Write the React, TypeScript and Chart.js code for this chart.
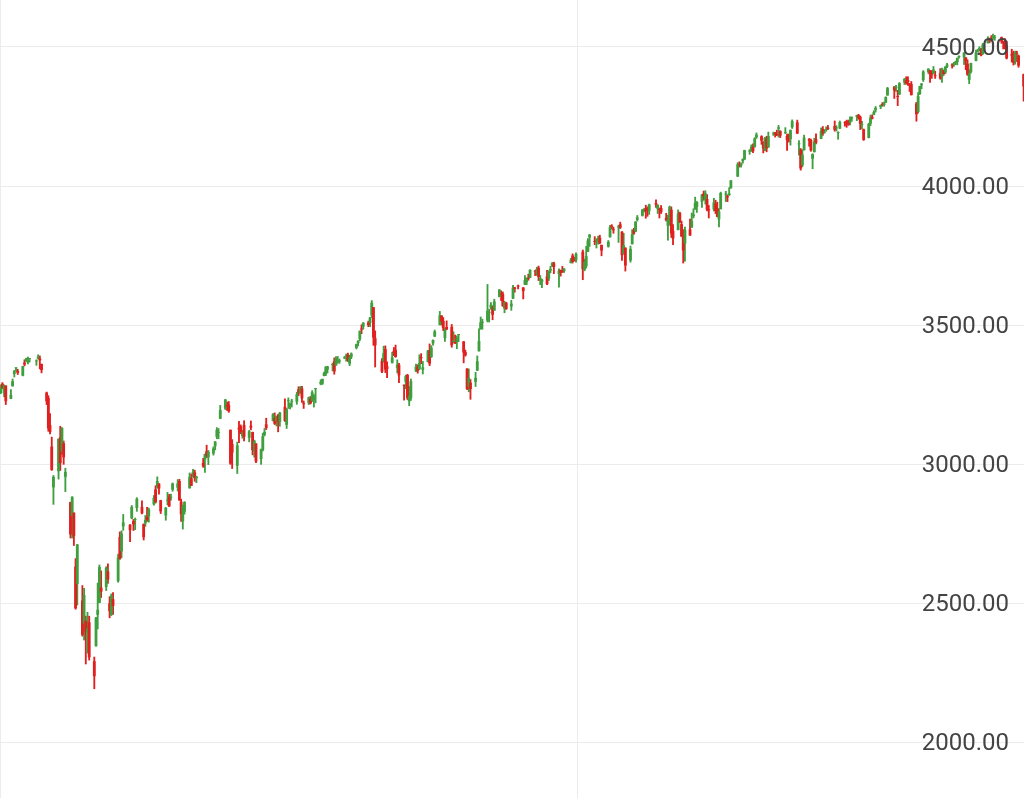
import React, { useEffect, useRef } from "react";
import { Chart, registerables } from "chart.js";

Chart.register(...registerables);

// [day of month, open, high, low, close]
type Row = [number, number, number, number, number];

const jan2020: Row[] = [[28,3255,3285,3253,3276],[29,3289,3293,3271,3273],[30,3256,3285,3242,3284],[31,3282,3282,3214,3226]];
const feb2020: Row[] = [[3,3235,3268,3235,3249],[4,3280,3306,3280,3298],[5,3324,3337,3313,3334],[6,3344,3347,3334,3346],[7,3335,3341,3322,3328],[10,3318,3352,3317,3352],[11,3365,3375,3353,3358],[12,3370,3381,3369,3379],[13,3365,3385,3360,3373],[14,3378,3380,3367,3380],[18,3369,3375,3355,3370],[19,3380,3393,3378,3386],[20,3380,3389,3342,3373],[21,3360,3360,3328,3338],[24,3257,3259,3214,3226],[25,3238,3246,3118,3128],[26,3140,3182,3108,3116],[27,3063,3097,2977,2979],[28,2916,2959,2855,2954]];
const mar2020: Row[] = [[2,2974,3091,2946,3090],[3,3096,3136,2977,3003],[4,3045,3131,3035,3130],[5,3075,3083,2999,3024],[6,2954,2985,2901,2972],[9,2863,2863,2734,2747],[10,2813,2883,2734,2882],[11,2825,2825,2707,2741],[12,2631,2660,2478,2481],[13,2569,2711,2493,2711],[16,2509,2563,2381,2386],[17,2426,2553,2367,2529],[18,2436,2453,2281,2398],[19,2394,2467,2320,2409],[20,2431,2453,2295,2305],[23,2291,2306,2192,2237],[24,2345,2449,2345,2447],[25,2458,2572,2407,2476],[26,2501,2637,2501,2630],[27,2556,2616,2520,2541],[30,2558,2631,2545,2627],[31,2614,2641,2571,2585]];
const apr2020: Row[] = [[1,2499,2523,2447,2471],[2,2458,2533,2455,2527],[3,2514,2538,2459,2489],[6,2579,2676,2575,2664],[7,2738,2756,2657,2659],[8,2686,2760,2663,2750],[9,2776,2819,2762,2790],[13,2782,2782,2721,2762],[14,2805,2851,2803,2846],[15,2795,2801,2761,2783],[16,2799,2806,2764,2800],[17,2842,2879,2830,2875],[20,2846,2868,2821,2823],[21,2784,2785,2727,2737],[22,2787,2815,2776,2799],[23,2810,2844,2794,2798],[24,2812,2842,2791,2837],[27,2855,2887,2852,2878],[28,2909,2922,2860,2863],[29,2918,2954,2913,2939],[30,2930,2930,2892,2912]];
const may2020: Row[] = [[1,2870,2870,2822,2830],[4,2815,2844,2798,2843],[5,2868,2898,2853,2868],[6,2883,2891,2847,2848],[7,2879,2892,2870,2881],[8,2908,2932,2902,2930],[11,2915,2944,2903,2930],[12,2939,2945,2869,2870],[13,2865,2874,2794,2820],[14,2794,2852,2766,2852],[15,2829,2865,2820,2863],[18,2913,2968,2913,2954],[19,2949,2964,2922,2922],[20,2953,2981,2953,2972],[21,2970,2978,2938,2949],[22,2949,2956,2933,2955],[26,3004,3021,2988,2992],[27,3016,3036,2970,3036],[28,3046,3068,3023,3030],[29,3025,3049,2998,3044]];
const jun2020: Row[] = [[1,3038,3062,3032,3056],[2,3064,3081,3051,3081],[3,3098,3131,3091,3123],[4,3112,3128,3091,3112],[5,3163,3211,3163,3194],[8,3199,3233,3196,3232],[9,3213,3223,3193,3207],[10,3213,3225,3186,3190],[11,3123,3123,2999,3002],[12,3072,3088,2984,3041],[15,2994,3079,2966,3067],[16,3131,3154,3077,3124],[17,3136,3141,3109,3113],[18,3101,3121,3093,3115],[19,3141,3156,3083,3098],[22,3094,3121,3080,3118],[23,3138,3155,3123,3131],[24,3115,3115,3033,3050],[25,3047,3086,3025,3084],[26,3074,3074,3005,3009],[29,3018,3054,2999,3053],[30,3050,3111,3047,3100]];
const jul2020: Row[] = [[1,3105,3128,3101,3116],[2,3143,3165,3124,3130],[6,3155,3182,3155,3180],[7,3166,3184,3142,3145],[8,3154,3172,3137,3170],[9,3176,3179,3116,3152],[10,3152,3186,3136,3185],[13,3206,3235,3153,3155],[14,3141,3200,3128,3197],[15,3226,3238,3200,3227],[16,3209,3220,3198,3216],[17,3224,3233,3205,3225],[20,3224,3258,3215,3251],[21,3269,3278,3246,3257],[22,3254,3279,3254,3276],[23,3272,3280,3222,3236],[24,3219,3227,3200,3215],[27,3219,3241,3214,3240],[28,3235,3243,3216,3218],[29,3227,3264,3225,3258],[30,3231,3250,3205,3246],[31,3270,3272,3220,3271]];
const aug2020: Row[] = [[3,3289,3303,3285,3295],[4,3289,3306,3286,3306],[5,3317,3331,3317,3327],[6,3323,3351,3318,3349],[7,3340,3352,3328,3351],[10,3356,3363,3335,3360],[11,3370,3382,3323,3333],[12,3355,3387,3355,3380],[13,3372,3387,3363,3373],[14,3368,3378,3362,3373],[17,3380,3387,3379,3381],[18,3388,3396,3370,3390],[19,3392,3399,3369,3375],[20,3361,3391,3354,3385],[21,3386,3400,3379,3397],[24,3418,3432,3414,3431],[25,3435,3444,3425,3443],[26,3449,3479,3444,3479],[27,3486,3501,3469,3484],[28,3494,3509,3485,3508],[31,3509,3514,3494,3500]];
const sep2020: Row[] = [[1,3507,3528,3494,3527],[2,3534,3588,3527,3580],[3,3564,3564,3427,3455],[4,3453,3479,3349,3427],[8,3371,3379,3329,3332],[9,3369,3424,3366,3399],[10,3413,3425,3329,3340],[11,3352,3368,3311,3341],[14,3364,3402,3363,3384],[15,3407,3419,3390,3401],[16,3411,3428,3384,3385],[17,3346,3375,3328,3357],[18,3357,3362,3293,3319],[21,3285,3285,3230,3281],[22,3295,3320,3271,3316],[23,3320,3323,3232,3237],[24,3226,3279,3210,3247],[25,3237,3306,3229,3298],[28,3333,3360,3332,3351],[29,3350,3357,3327,3335],[30,3341,3393,3340,3363]];
const oct2020: Row[] = [[1,3385,3397,3361,3381],[2,3339,3369,3324,3348],[5,3367,3409,3367,3408],[6,3408,3432,3354,3361],[7,3384,3426,3384,3419],[8,3434,3447,3428,3446],[9,3459,3482,3458,3477],[12,3500,3549,3500,3535],[13,3534,3534,3500,3512],[14,3515,3527,3480,3489],[15,3453,3489,3441,3483],[16,3493,3515,3483,3484],[19,3493,3502,3420,3427],[20,3439,3476,3435,3443],[21,3439,3464,3433,3436],[22,3439,3461,3415,3453],[23,3464,3466,3440,3465],[26,3441,3441,3364,3401],[27,3403,3410,3388,3391],[28,3343,3343,3268,3271],[29,3277,3342,3260,3310],[30,3293,3304,3233,3270]];
const nov2020: Row[] = [[2,3296,3330,3279,3310],[3,3336,3389,3336,3370],[4,3406,3486,3406,3443],[5,3485,3529,3485,3510],[6,3508,3521,3485,3509],[9,3516,3646,3511,3551],[10,3544,3557,3511,3545],[11,3563,3581,3557,3573],[12,3563,3569,3519,3537],[13,3552,3593,3552,3585],[16,3601,3628,3601,3627],[17,3611,3623,3588,3610],[18,3612,3619,3567,3568],[19,3559,3585,3544,3582],[20,3580,3582,3556,3558],[23,3567,3589,3553,3577],[24,3595,3643,3595,3635],[25,3635,3636,3618,3630],[27,3639,3644,3630,3638],[30,3635,3635,3594,3622]];
const dec2020: Row[] = [[1,3645,3678,3645,3662],[2,3654,3670,3645,3669],[3,3669,3683,3661,3666],[4,3670,3699,3670,3699],[7,3694,3697,3678,3692],[8,3683,3708,3678,3702],[9,3706,3712,3660,3673],[10,3660,3678,3645,3668],[11,3656,3665,3634,3663],[14,3675,3697,3645,3647],[15,3666,3695,3660,3695],[16,3696,3711,3688,3702],[17,3713,3725,3710,3722],[18,3722,3726,3685,3709],[21,3684,3702,3636,3695],[22,3698,3698,3676,3687],[23,3693,3711,3689,3690],[24,3694,3703,3689,3703],[28,3723,3740,3723,3735],[29,3750,3756,3723,3727],[30,3736,3744,3730,3732],[31,3733,3760,3726,3756]];
const jan2021: Row[] = [[4,3764,3770,3663,3701],[5,3698,3737,3695,3727],[6,3712,3783,3705,3748],[7,3764,3811,3764,3804],[8,3815,3826,3783,3825],[11,3803,3818,3789,3799],[12,3801,3811,3777,3801],[13,3802,3820,3791,3810],[14,3814,3823,3792,3795],[15,3788,3788,3749,3768],[19,3782,3804,3780,3799],[20,3816,3859,3816,3852],[21,3857,3861,3845,3853],[22,3844,3852,3830,3841],[25,3851,3859,3797,3855],[26,3862,3870,3847,3850],[27,3836,3836,3732,3751],[28,3755,3830,3755,3787],[29,3778,3778,3694,3714]];
const feb2021: Row[] = [[1,3732,3784,3726,3774],[2,3791,3843,3791,3826],[3,3840,3848,3826,3830],[4,3836,3872,3836,3872],[5,3878,3894,3874,3887],[8,3893,3916,3892,3915],[9,3910,3919,3907,3911],[10,3920,3931,3884,3910],[11,3917,3925,3891,3916],[12,3911,3935,3898,3934],[16,3939,3950,3923,3933],[17,3918,3933,3901,3932],[18,3915,3921,3885,3914],[19,3921,3930,3901,3907],[22,3885,3902,3874,3877],[23,3857,3895,3805,3881],[24,3873,3928,3859,3925],[25,3915,3925,3815,3829],[26,3839,3861,3789,3811]];
const mar2021: Row[] = [[1,3842,3914,3842,3901],[2,3903,3906,3868,3870],[3,3863,3874,3818,3819],[4,3818,3843,3723,3768],[5,3793,3852,3730,3842],[8,3844,3881,3822,3822],[9,3851,3903,3851,3875],[10,3891,3918,3885,3898],[11,3916,3960,3916,3939],[12,3925,3944,3905,3943],[15,3943,3970,3923,3969],[16,3973,3982,3949,3963],[17,3949,3983,3935,3974],[18,3953,3969,3910,3915],[19,3914,3930,3885,3913],[22,3916,3956,3910,3941],[23,3937,3949,3901,3910],[24,3919,3942,3889,3889],[25,3880,3919,3853,3909],[26,3917,3978,3917,3975],[29,3969,3981,3944,3971],[30,3963,3968,3944,3959],[31,3967,3994,3966,3973]];
const apr2021: Row[] = [[1,3992,4020,3992,4020],[5,4034,4084,4034,4078],[6,4075,4087,4068,4074],[7,4074,4083,4068,4080],[8,4089,4098,4082,4097],[9,4096,4129,4095,4129],[12,4124,4131,4114,4128],[13,4130,4148,4124,4141],[14,4141,4152,4120,4125],[15,4140,4174,4140,4171],[16,4175,4191,4171,4185],[19,4179,4181,4150,4163],[20,4159,4160,4119,4135],[21,4128,4175,4127,4173],[22,4170,4179,4123,4135],[23,4139,4194,4139,4180],[26,4185,4194,4182,4187],[27,4188,4193,4176,4187],[28,4185,4201,4181,4183],[29,4206,4218,4176,4211],[30,4198,4199,4174,4181]];
const may2021: Row[] = [[3,4191,4210,4188,4192],[4,4180,4187,4128,4165],[5,4177,4187,4158,4168],[6,4169,4202,4147,4201],[7,4211,4238,4207,4233],[10,4229,4237,4188,4189],[11,4150,4163,4111,4153],[12,4130,4135,4057,4063],[13,4074,4131,4069,4113],[14,4129,4183,4129,4174],[17,4169,4171,4143,4163],[18,4165,4169,4125,4128],[19,4098,4116,4062,4115],[20,4122,4172,4122,4160],[21,4168,4188,4151,4156],[24,4170,4209,4170,4198],[25,4205,4214,4182,4188],[26,4192,4203,4190,4196],[27,4201,4213,4197,4201],[28,4210,4218,4203,4204]];
const jun2021: Row[] = [[1,4216,4234,4197,4202],[2,4207,4217,4198,4208],[3,4191,4195,4168,4192],[4,4207,4234,4206,4230],[7,4229,4232,4215,4226],[8,4233,4237,4211,4227],[9,4232,4237,4218,4220],[10,4228,4249,4220,4239],[11,4242,4249,4233,4247],[14,4249,4255,4235,4255],[15,4255,4258,4240,4246],[16,4249,4252,4203,4224],[17,4220,4233,4205,4222],[18,4204,4205,4164,4166],[21,4173,4226,4173,4224],[22,4224,4255,4217,4246],[23,4249,4256,4241,4242],[24,4256,4271,4256,4266],[25,4274,4286,4266,4281],[28,4284,4292,4278,4291],[29,4293,4300,4287,4291],[30,4291,4302,4287,4298]];
const jul2021: Row[] = [[1,4300,4321,4300,4320],[2,4326,4355,4326,4352],[6,4357,4358,4315,4344],[7,4351,4362,4340,4358],[8,4321,4344,4289,4320],[9,4329,4372,4329,4370],[12,4372,4387,4365,4385],[13,4381,4393,4366,4369],[14,4381,4393,4362,4374],[15,4369,4369,4340,4360],[16,4367,4376,4327,4327],[19,4297,4301,4233,4258],[20,4266,4336,4262,4323],[21,4331,4359,4329,4359],[22,4362,4369,4350,4368],[23,4381,4415,4376,4412],[26,4410,4422,4405,4422],[27,4416,4416,4373,4401],[28,4402,4415,4387,4400],[29,4404,4430,4403,4419],[30,4396,4413,4387,4395]];
const aug2021: Row[] = [[2,4406,4422,4384,4387],[3,4393,4424,4373,4423],[4,4416,4417,4398,4403],[5,4408,4430,4404,4429],[6,4429,4441,4426,4437],[9,4437,4440,4424,4433],[10,4436,4445,4430,4436],[11,4442,4449,4436,4447],[12,4446,4461,4436,4460],[13,4464,4468,4460,4468],[16,4462,4480,4437,4480],[17,4462,4462,4418,4449],[18,4440,4454,4398,4400],[19,4382,4418,4368,4406],[20,4410,4442,4406,4442],[23,4450,4489,4450,4480],[24,4484,4492,4482,4486],[25,4490,4501,4486,4496],[26,4493,4495,4468,4470],[27,4474,4513,4474,4509],[30,4514,4537,4514,4529],[31,4529,4532,4515,4523]];
const sep2021: Row[] = [[1,4529,4541,4521,4524],[2,4535,4546,4527,4537],[3,4532,4542,4524,4535],[7,4535,4536,4513,4520],[8,4519,4521,4493,4514],[9,4513,4530,4493,4493],[10,4506,4521,4457,4459],[13,4474,4492,4446,4469],[14,4479,4485,4435,4443],[15,4447,4485,4438,4480],[16,4477,4485,4448,4474],[17,4469,4471,4427,4433],[20,4402,4403,4305,4358]];

// [year, month, rows]
const months: [number, number, Row[]][] = [
  [2020, 1, jan2020], [2020, 2, feb2020], [2020, 3, mar2020], [2020, 4, apr2020],
  [2020, 5, may2020], [2020, 6, jun2020], [2020, 7, jul2020], [2020, 8, aug2020],
  [2020, 9, sep2020], [2020, 10, oct2020], [2020, 11, nov2020], [2020, 12, dec2020],
  [2021, 1, jan2021], [2021, 2, feb2021], [2021, 3, mar2021], [2021, 4, apr2021],
  [2021, 5, may2021], [2021, 6, jun2021], [2021, 7, jul2021], [2021, 8, aug2021],
  [2021, 9, sep2021],
];

const yTicks = [2000, 2500, 3000, 3500, 4000, 4500];
const yMin = 1799;
const yMax = 4669;
// visible window, in days counted from 2020-01-01
const xMin = 26.6;
const xMax = 628.2;
// vertical grid line dates: [year, month, day]
const xGridDates: [number, number, number][] = [[2021, 1, 1]];

const UP = "#3f9f3f";
const DOWN = "#e0201f";
const GRID = "#ececec";

const EPOCH = Date.UTC(2020, 0, 1);
const dayNum = (y: number, m: number, d: number) =>
  Math.round((Date.UTC(y, m - 1, d) - EPOCH) / 86400000);

export default function App() {
  const ref = useRef<HTMLCanvasElement | null>(null);

  useEffect(() => {
    if (!ref.current) return;
    const pts: { x: number; o: number; h: number; l: number; c: number }[] = [];
    months.forEach(([y, m, rows]) => {
      rows.forEach(([d, o, h, l, c]) => pts.push({ x: dayNum(y, m, d), o, h, l, c }));
    });
    const colors = pts.map((p) => (p.c >= p.o ? UP : DOWN));
    const gridValues = [xMin, ...xGridDates.map(([y, m, d]) => dayNum(y, m, d))];

    const chart = new Chart(ref.current, {
      type: "bar",
      data: {
        datasets: [
          {
            label: "body",
            data: pts.map((p) => ({ x: p.x, y: [p.o, p.c] })) as any,
            backgroundColor: colors,
            borderWidth: 0,
            barPercentage: 1.65,
            categoryPercentage: 1,
            minBarLength: 1,
            grouped: false,
          } as any,
          {
            label: "wick",
            data: pts.map((p) => ({ x: p.x, y: [p.l, p.h] })) as any,
            backgroundColor: colors,
            borderWidth: 0,
            maxBarThickness: 1.2,
            barPercentage: 1,
            categoryPercentage: 1,
            grouped: false,
          } as any,
        ],
      },
      options: {
        animation: false,
        responsive: false,
        events: [],
        layout: { padding: 0, autoPadding: false },
        plugins: { legend: { display: false }, tooltip: { enabled: false } },
        scales: {
          x: {
            type: "linear",
            min: xMin,
            max: xMax,
            offset: false,
            grid: { color: GRID, drawTicks: false, lineWidth: 1, offset: false },
            border: { display: false },
            ticks: { display: false },
            afterBuildTicks: (axis: any) => {
              axis.ticks = gridValues.map((v) => ({ value: v }));
            },
            afterFit: (axis: any) => {
              axis.height = 0;
              axis.paddingLeft = 0;
              axis.paddingRight = 0;
            },
          },
          y: {
            type: "linear",
            position: "right",
            min: yMin,
            max: yMax,
            grid: { color: GRID, drawTicks: false, lineWidth: 1 },
            border: { display: false },
            afterBuildTicks: (axis: any) => {
              axis.ticks = yTicks.map((v) => ({ value: v }));
            },
            afterFit: (axis: any) => {
              axis.width = 0;
              axis.paddingTop = 0;
              axis.paddingBottom = 0;
            },
            ticks: {
              mirror: true,
              padding: -15,
              labelOffset: 2,
              z: 1,
              color: "#444444",
              font: { family: "Roboto", size: 24 },
              callback: (v: any) => Number(v).toFixed(2),
            },
          },
        },
      } as any,
    });
    return () => chart.destroy();
  }, []);

  return (
    <div style={{ position: "fixed", left: 0, top: 0, width: 1024, height: 798, background: "#ffffff" }}>
      <canvas ref={ref} width={1024} height={798} style={{ display: "block", width: 1024, height: 798 }} />
    </div>
  );
}
